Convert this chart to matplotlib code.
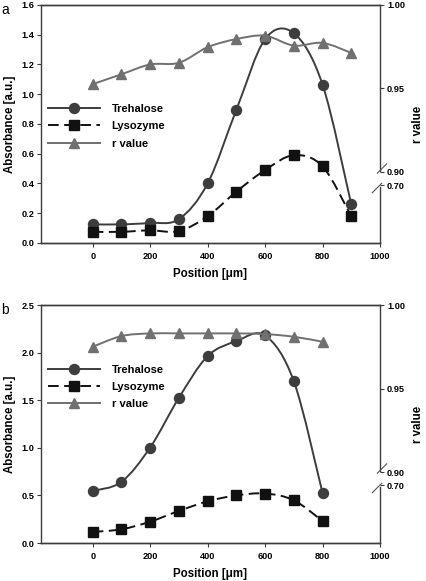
import numpy as np
import matplotlib
matplotlib.use("Agg")
import matplotlib.pyplot as plt
from matplotlib.path import Path
from matplotlib.patches import PathPatch
from matplotlib.lines import Line2D

plt.rcParams.update({'font.family': 'Liberation Sans',
                     'font.weight': 'bold',
                     'axes.labelweight': 'bold',
                     'font.size': 6.6,
                     'axes.linewidth': 1.0,
                     'axes.edgecolor': '#3c3c3c'})

# panel a
pos_a = [0, 100, 200, 300, 400, 500, 600, 700, 800, 900]
treh_a = [0.125, 0.125, 0.135, 0.16, 0.40, 0.895, 1.37, 1.41, 1.065, 0.26]
lyso_a = [0.075, 0.075, 0.085, 0.08, 0.18, 0.345, 0.49, 0.59, 0.515, 0.18]
r_a = [0.9526, 0.9585, 0.9644, 0.9654, 0.9747, 0.9796, 0.9816, 0.9757, 0.9773, 0.9713]

# panel b
pos_b = [0, 100, 200, 300, 400, 500, 600, 700, 800]
treh_b = [0.547, 0.642, 1.003, 1.525, 1.963, 2.12, 2.18, 1.70, 0.526]
lyso_b = [0.116, 0.144, 0.224, 0.337, 0.438, 0.50, 0.52, 0.449, 0.231]
r_b = [0.975, 0.9814, 0.983, 0.983, 0.983, 0.983, 0.9826, 0.981, 0.978]

r_ticks = [0.8922, 0.90, 0.95, 1.00]
r_labels = ['0.70', '0.90', '0.95', '1.00']

c_treh = '#3d3d3d'
c_lyso = '#111111'
c_r = '#707070'


def smooth(ax, x, y, **kw):
    # Catmull-Rom spline through the points, drawn as cubic bezier path
    p = np.column_stack([x, y]).astype(float)
    ext = np.vstack([p[0], p, p[-1]])
    verts = [p[0]]
    codes = [Path.MOVETO]
    for i in range(len(p) - 1):
        p0, p1, p2, p3 = ext[i], ext[i + 1], ext[i + 2], ext[i + 3]
        verts += [p1 + (p2 - p0) / 6, p2 - (p3 - p1) / 6, p2]
        codes += [Path.CURVE4] * 3
    ax.add_patch(PathPatch(Path(verts, codes), fill=False, **kw))


def panel(rect, label, pos, treh, lyso, rv, ymax, ystep, leg_y):
    ax = fig.add_axes(rect)
    ax2 = ax.twinx()
    ax.set_xlim(-180, 1000)
    ax.set_ylim(0, ymax)
    yt = np.arange(0, ymax + 1e-9, ystep)
    ax.set_yticks(yt, ['%.1f' % v for v in yt], fontweight='bold')
    ax.set_xticks(range(0, 1001, 200), [str(v) for v in range(0, 1001, 200)],
                  fontweight='bold')
    ax2.set_ylim(0.8575, 1.0)
    ax2.set_yticks(r_ticks, r_labels, fontweight='bold')
    for a in (ax, ax2):
        a.tick_params(length=3, width=0.8, pad=2, color='#3c3c3c')
        a.spines['right'].set_visible(False)
    ax.tick_params(axis='x', pad=3.5)
    ax2.spines['left'].set_visible(False)

    smooth(ax, pos, treh, color=c_treh, lw=1.4, zorder=2)
    ax.plot(pos, treh, 'o', color=c_treh, ms=7.2, zorder=3)
    smooth(ax, pos, lyso, color=c_lyso, lw=1.4, linestyle=(0, (5.5, 2.8)), zorder=2)
    ax.plot(pos, lyso, 's', color=c_lyso, ms=6.6, zorder=3)
    smooth(ax2, pos, rv, color=c_r, lw=1.4, zorder=2)
    ax2.plot(pos, rv, '^', color=c_r, ms=7.6, zorder=3)

    # right spine with a break between 0.90 and 0.70
    ax2.plot([1, 1], [1, 0.304], transform=ax2.transAxes, color='#3c3c3c',
             lw=1.0, clip_on=False)
    ax2.plot([1, 1], [0.237, 0], transform=ax2.transAxes, color='#3c3c3c',
             lw=1.0, clip_on=False)
    w, h = rect[2] * 426, rect[3] * 581
    for cx, cy in [(2, 0.2983 * h + 3.5), (-3, 0.2437 * h - 3)]:
        ax2.plot([1 + (cx - 4.7) / w, 1 + (cx + 4.7) / w],
                 [(cy - 4.7) / h, (cy + 4.7) / h],
                 transform=ax2.transAxes, color='#555555', lw=0.8, clip_on=False)

    ax.set_ylabel('Absorbance [a.u.]', fontsize=8.3, labelpad=4)
    ax2.set_ylabel('r value', fontsize=8.3, labelpad=5)
    ax.set_xlabel('Position [\u03bcm]', fontsize=8.3, labelpad=5)

    handles = [Line2D([], [], color=c_treh, lw=1.4, marker='o', ms=7.2),
               Line2D([], [], color=c_lyso, lw=1.4, marker='s', ms=6.6,
                      linestyle=(0, (5.5, 2.8))),
               Line2D([], [], color=c_r, lw=1.4, marker='^', ms=7.6)]
    ax2.legend(handles, ['Trehalose', 'Lysozyme', 'r value'], loc='center left',
               bbox_to_anchor=(0.02, leg_y), bbox_transform=ax.transAxes,
               frameon=False, borderpad=0, borderaxespad=0, handlelength=4.7,
               handletextpad=1.05, labelspacing=0.66, numpoints=1,
               prop={'size': 8, 'weight': 'bold'})
    fig.text(0.003, rect[1] + rect[3] - 0.008, label, fontsize=10,
             fontweight='normal', va='center', ha='left')
    return ax


fig = plt.figure(figsize=(4.26, 5.81), dpi=100)
panel([0.0962, 0.5818, 0.7958, 0.4096], 'a', pos_a, treh_a, lyso_a, r_a, 1.6, 0.2, 0.49)
panel([0.0962, 0.0654, 0.7958, 0.4096], 'b', pos_b, treh_b, lyso_b, r_b, 2.5, 0.5, 0.6555)

fig.savefig("out.png", dpi=100)
